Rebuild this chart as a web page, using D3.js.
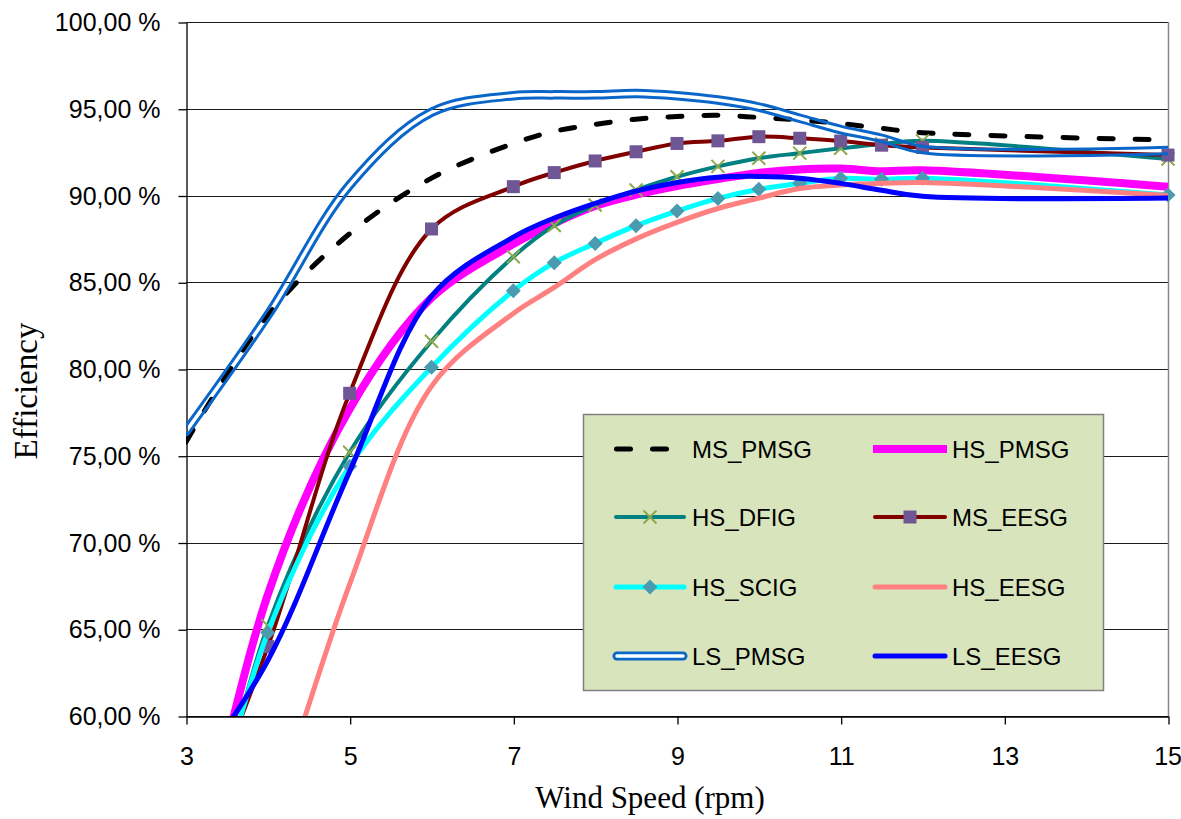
<!DOCTYPE html>
<html><head><meta charset="utf-8">
<script src="https://cdn.jsdelivr.net/npm/d3@7"></script>
<style>body{margin:0;background:#fff} svg{display:block}</style>
</head><body>
<svg id="chart" width="1181" height="819"></svg>
<script>
// ---------- data ----------
const windSpeed = [3, 4, 5, 6, 7, 7.5, 8, 8.5, 9, 9.5, 10, 10.5, 11, 11.5, 12, 15];
const xTicks = [3, 5, 7, 9, 11, 13, 15];
const yTicks = [60, 65, 70, 75, 80, 85, 90, 95, 100];
const seriesNames = ["MS_PMSG", "HS_PMSG", "HS_DFIG", "MS_EESG", "HS_SCIG", "HS_EESG", "LS_PMSG", "LS_EESG"];
const MS_PMSG = [75.8, 83.1, 87.8, 91.0, 93.0, 93.7, 94.1, 94.4, 94.55, 94.62, 94.5, 94.35, 94.15, 93.87, 93.62, 93.2];
const HS_PMSG = [48, 67.0, 77.7, 84.1, 87.2, 88.4, 89.4, 90.05, 90.55, 90.95, 91.3, 91.5, 91.55, 91.4, 91.45, 90.5];
const HS_DFIG = [47, 65.2, 75.2, 81.6, 86.47, 88.27, 89.45, 90.32, 91.08, 91.68, 92.15, 92.44, 92.72, 92.97, 93.15, 92.1];
const MS_EESG = [52, 64.0, 78.6, 88.07, 90.51, 91.32, 91.99, 92.52, 93.0, 93.15, 93.39, 93.3, 93.14, 92.9, 92.77, 92.33];
const HS_SCIG = [48, 64.8, 74.4, 80.1, 84.51, 86.13, 87.24, 88.26, 89.1, 89.83, 90.36, 90.7, 90.99, 90.93, 90.99, 90.03];
const HS_EESG = [41, 53.5, 67.6, 79.0, 83.2, 84.7, 86.3, 87.5, 88.45, 89.25, 89.85, 90.4, 90.6, 90.7, 90.75, 90.0];
const LS_PMSG = [76.4, 83.1, 90.6, 94.8, 95.75, 95.8, 95.8, 95.88, 95.75, 95.5, 95.1, 94.45, 93.8, 93.3, 92.65, 92.6];
const LS_EESG = [56, 63.2, 74.1, 84.2, 87.6, 88.7, 89.55, 90.25, 90.75, 91.05, 91.1, 91.0, 90.7, 90.3, 89.95, 89.85];
const seriesValues = [MS_PMSG, HS_PMSG, HS_DFIG, MS_EESG, HS_SCIG, HS_EESG, LS_PMSG, LS_EESG];

// ---------- styles ----------
const styles = {
  MS_PMSG: {color: "#000000", width: 5, dash: "14,22", cap: "round"},
  HS_PMSG: {color: "#ff00ff", width: 8},
  HS_DFIG: {color: "#008080", width: 4, marker: "x", mcolor: "#8ea84c"},
  MS_EESG: {color: "#800000", width: 4, marker: "square", mcolor: "#6f5796"},
  HS_SCIG: {color: "#00ffff", width: 5, marker: "diamond", mcolor: "#4a9ab0"},
  HS_EESG: {color: "#ff8080", width: 5},
  LS_PMSG: {color: "#0a66c8", width: 9.5, double: true},
  LS_EESG: {color: "#0000ff", width: 5}
};
const SANS = "'Liberation Sans', Arial, sans-serif";
const SERIF = "'Liberation Serif', 'Times New Roman', serif";

const svg = d3.select("#chart");
const x = d3.scaleLinear().domain([3, 15]).range([186, 1168]);
const y = d3.scaleLinear().domain([60, 100]).range([716, 22]);

svg.append("rect").attr("width", 1181).attr("height", 819).attr("fill", "#fff");

const defs = svg.append("defs");
defs.append("clipPath").attr("id", "plotClip")
  .append("rect").attr("x", 186).attr("y", 22).attr("width", 982).attr("height", 694);

// gridlines
svg.append("g").selectAll("line").data(yTicks).join("line")
  .attr("x1", 186).attr("x2", 1168)
  .attr("y1", d => Math.round(y(d)) + 0.5).attr("y2", d => Math.round(y(d)) + 0.5)
  .attr("stroke", "#1a1a1a").attr("stroke-width", 1);
// right border
svg.append("line").attr("x1", 1168.5).attr("x2", 1168.5).attr("y1", 22).attr("y2", 716)
  .attr("stroke", "#888").attr("stroke-width", 1.5);

// axes
const yAxis = d3.axisLeft(y).tickValues(yTicks).tickSize(8).tickSizeOuter(0).tickPadding(18)
  .tickFormat(d => d.toFixed(2).replace(".", ",") + " %");
const gy = svg.append("g").attr("transform", "translate(186.5,0.5)").call(yAxis);
const xAxis = d3.axisBottom(x).tickValues(xTicks).tickSize(8).tickSizeOuter(0).tickPadding(23)
  .tickFormat(d3.format("d"));
const gx = svg.append("g").attr("transform", "translate(0.5,716.5)").call(xAxis);
[gy, gx].forEach(g => {
  g.selectAll("path,line").attr("stroke", "#000").attr("stroke-width", 1.3);
  g.selectAll("text").attr("font-family", SANS).attr("font-size", 25).attr("fill", "#000");
});
// keep last x label inside the page
gx.selectAll(".tick").filter(d => d === 15).select("text").attr("text-anchor", "end").attr("x", 13);

// axis titles
svg.append("text").attr("x", 650).attr("y", 808).attr("text-anchor", "middle")
  .attr("font-family", SERIF).attr("font-size", 31).text("Wind Speed (rpm)");
svg.append("text").attr("transform", "translate(37,391) rotate(-90)").attr("text-anchor", "middle")
  .attr("font-family", SERIF).attr("font-size", 33).text("Efficiency");

// series
const line = d3.line().x(d => x(d[0])).y(d => y(d[1])).curve(d3.curveCatmullRom.alpha(0.5));
const plot = svg.append("g");

function drawMarker(g, type, cx, cy, color, s) {
  if (type === "square") {
    g.append("rect").attr("x", cx - s / 2).attr("y", cy - s / 2).attr("width", s).attr("height", s)
      .attr("fill", color);
  } else if (type === "diamond") {
    const r = s / 2;
    g.append("path").attr("d", `M${cx},${cy - r}L${cx + r},${cy}L${cx},${cy + r}L${cx - r},${cy}Z`)
      .attr("fill", color);
  } else if (type === "x") {
    const r = s / 2;
    g.append("path").attr("d", `M${cx - r},${cy - r}L${cx + r},${cy + r}M${cx - r},${cy + r}L${cx + r},${cy - r}`)
      .attr("stroke", color).attr("stroke-width", 2).attr("fill", "none");
  }
}

seriesNames.forEach((name, i) => {
  const st = styles[name];
  const pts = windSpeed.map((w, j) => [w, seriesValues[i][j]]);
  const g = plot.append("g");
  const lg = g.append("g").attr("clip-path", "url(#plotClip)");
  const p = lg.append("path").attr("d", line(pts)).attr("fill", "none")
    .attr("stroke", st.color).attr("stroke-width", st.width)
    .attr("stroke-linejoin", "round").attr("stroke-linecap", st.cap || "round");
  if (st.dash) p.attr("stroke-dasharray", st.dash);
  if (st.double) {
    const m = defs.append("mask").attr("id", "mask_" + name).attr("maskUnits", "userSpaceOnUse")
      .attr("x", 0).attr("y", 0).attr("width", 1181).attr("height", 819);
    m.append("rect").attr("width", 1181).attr("height", 819).attr("fill", "#fff");
    m.append("path").attr("d", line(pts)).attr("fill", "none").attr("stroke", "#000")
      .attr("stroke-width", 3.5).attr("stroke-linejoin", "round");
    p.attr("mask", "url(#mask_" + name + ")");
  }
  if (st.marker) {
    pts.filter(d => d[1] >= 60).forEach(d => drawMarker(g, st.marker, x(d[0]), y(d[1]), st.mcolor, st.marker === "diamond" ? 15 : 13));
  }
});

// legend
const legend = svg.append("g");
legend.append("rect").attr("x", 583.5).attr("y", 414.5).attr("width", 520).attr("height", 276)
  .attr("fill", "#d8e4bc").attr("stroke", "#808080").attr("stroke-width", 1.5);
const rowsY = [449, 517, 587, 656];
const cols = [{x1: 614, x2: 686, tx: 692}, {x1: 873, x2: 947, tx: 952}];
seriesNames.forEach((name, i) => {
  const st = styles[name];
  const c = cols[i % 2], ry = rowsY[Math.floor(i / 2)];
  const lg = legend.append("g");
  if (st.double) {
    lg.append("line").attr("x1", c.x1 + 3).attr("x2", c.x2 - 3).attr("y1", ry).attr("y2", ry)
      .attr("stroke", st.color).attr("stroke-width", 9).attr("stroke-linecap", "round");
    lg.append("line").attr("x1", c.x1 + 3).attr("x2", c.x2 - 3).attr("y1", ry).attr("y2", ry)
      .attr("stroke", "#fff").attr("stroke-width", 3.5).attr("stroke-linecap", "round");
  } else {
    const isButt = name === "HS_PMSG";
    const l = lg.append("line").attr("x1", st.dash ? c.x1 + 2.5 : (isButt ? c.x1 : c.x1 + 2)).attr("x2", isButt ? c.x2 : c.x2 - 2)
      .attr("y1", ry).attr("y2", ry).attr("stroke", st.color).attr("stroke-width", st.width)
      .attr("stroke-linecap", isButt ? "butt" : "round");
    if (st.dash) l.attr("stroke-dasharray", st.dash);
  }
  if (st.marker) {
    const mx = i % 2 === 0 ? 650 : 910;
    drawMarker(lg, st.marker, mx, ry, st.mcolor, st.marker === "diamond" ? 15 : 13);
  }
  lg.append("text").attr("x", c.tx).attr("y", ry + 9).attr("font-family", SANS).attr("font-size", 24)
    .attr("fill", "#000").text(name);
});
</script>
</body></html>
